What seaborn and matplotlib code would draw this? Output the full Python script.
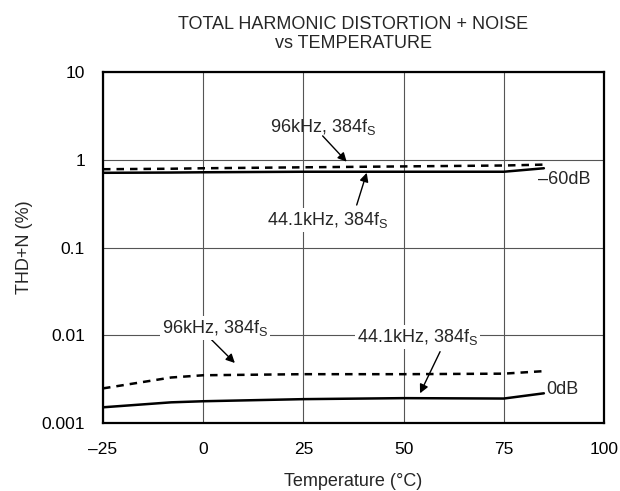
import numpy as np
import pandas as pd
import matplotlib
matplotlib.use("Agg")
import matplotlib.pyplot as plt
import seaborn as sns
from matplotlib.ticker import FixedLocator, FuncFormatter

sns.set_style("white")
plt.rcParams["font.family"] = ["Liberation Sans", "DejaVu Sans"]
plt.rcParams["mathtext.fontset"] = "custom"
plt.rcParams["mathtext.rm"] = "Liberation Sans"
plt.rcParams["mathtext.it"] = "Liberation Sans"

# ---- data ----
temps = [-25, -8, 0, 25, 50, 75, 85]
m60_441 = [0.71, 0.715, 0.72, 0.73, 0.73, 0.73, 0.80]
m60_96 = [0.78, 0.79, 0.80, 0.82, 0.84, 0.86, 0.88]
db0_441 = [0.00151, 0.00172, 0.00177, 0.00187, 0.00192, 0.00190, 0.00218]
db0_96 = [0.00248, 0.00330, 0.00350, 0.00360, 0.00360, 0.00365, 0.00390]

x_ticks = [-25, 0, 25, 50, 75, 100]
y_ticks = [0.001, 0.01, 0.1, 1, 10]
y_tick_labels = ["0.001", "0.01", "0.1", "1", "10"]

title = "TOTAL HARMONIC DISTORTION + NOISE\nvs TEMPERATURE"
xlabel = "Temperature (°C)"
ylabel = "THD+N (%)"

rows = []
for name, vals, style in [("m60_441", m60_441, "solid"), ("m60_96", m60_96, "dash"),
                          ("db0_441", db0_441, "solid"), ("db0_96", db0_96, "dash")]:
    for t, v in zip(temps, vals):
        rows.append({"T": t, "v": v, "series": name, "style": style})
df = pd.DataFrame(rows)

FS = 13
fig = plt.figure(figsize=(6.2, 4.91), dpi=100)
ax = fig.add_axes([103 / 620, 1 - 423 / 491, 501 / 620, 351 / 491])

dash = (3, 2.4)
sns.lineplot(data=df, x="T", y="v", units="series", style="style", estimator=None,
             dashes={"solid": "", "dash": dash}, color="black", linewidth=1.8,
             legend=False, ax=ax)

ax.set_yscale("log")
ax.set_xlim(-25, 100)
ax.set_ylim(0.001, 10)
ax.xaxis.set_major_locator(FixedLocator(x_ticks))
ax.xaxis.set_major_formatter(FuncFormatter(lambda v, p: f"{int(round(v))}".replace("-", "\u2013")))
ax.yaxis.set_major_locator(FixedLocator(y_ticks))
ax.yaxis.set_major_formatter(FuncFormatter(
    lambda v, p: y_tick_labels[int(np.argmin([abs(np.log10(t) - np.log10(v)) for t in y_ticks]))]))
ax.yaxis.set_minor_locator(FixedLocator([]))
ax.tick_params(axis="both", which="both", length=0, labelsize=FS - 0.5, colors="black")
ax.tick_params(axis="x", pad=14)
ax.tick_params(axis="y", pad=13)
ax.grid(True, which="major", color="#555555", linewidth=0.8)
ax.set_axisbelow(True)
for s in ax.spines.values():
    s.set_visible(True)
    s.set_color("black")
    s.set_linewidth(1.6)

ax.set_xlabel(xlabel, fontsize=FS, labelpad=11)
ax.set_ylabel(ylabel, fontsize=FS, labelpad=6)
ax.set_title(title, fontsize=FS, pad=17, linespacing=1.2)

lab96 = "96kHz, 384f$_{\\mathrm{S}}$"
lab44 = "44.1kHz, 384f$_{\\mathrm{S}}$"
ap = dict(arrowstyle="-|>", color="black", lw=1.0, mutation_scale=13, shrinkA=0, shrinkB=0)
bbox = dict(facecolor="white", edgecolor="none", pad=1.5)

ax.annotate("", xy=(35.8, 0.95), xytext=(29.8, 1.87), arrowprops=ap)
ax.text(29.9, 2.36, lab96, ha="center", va="center", fontsize=FS)
ax.annotate("", xy=(40.8, 0.71), xytext=(38.3, 0.305), arrowprops=ap)
ax.text(31.0, 0.206, lab44, ha="center", va="center", fontsize=FS, bbox=bbox)

ax.annotate("", xy=(7.9, 0.00483), xytext=(1.9, 0.00906), arrowprops=ap)
ax.text(2.9, 0.0121, lab96, ha="center", va="center", fontsize=FS, bbox=bbox)
ax.annotate("", xy=(54.1, 0.00218), xytext=(59.1, 0.0065), arrowprops=ap)
ax.text(53.5, 0.00963, lab44, ha="center", va="center", fontsize=FS, bbox=bbox)

ax.text(83.6, 0.6, "\u201360dB", ha="left", va="center", fontsize=FS)
ax.text(85.7, 0.00238, "0dB", ha="left", va="center", fontsize=FS)

fig.savefig("out.png", dpi=100)
